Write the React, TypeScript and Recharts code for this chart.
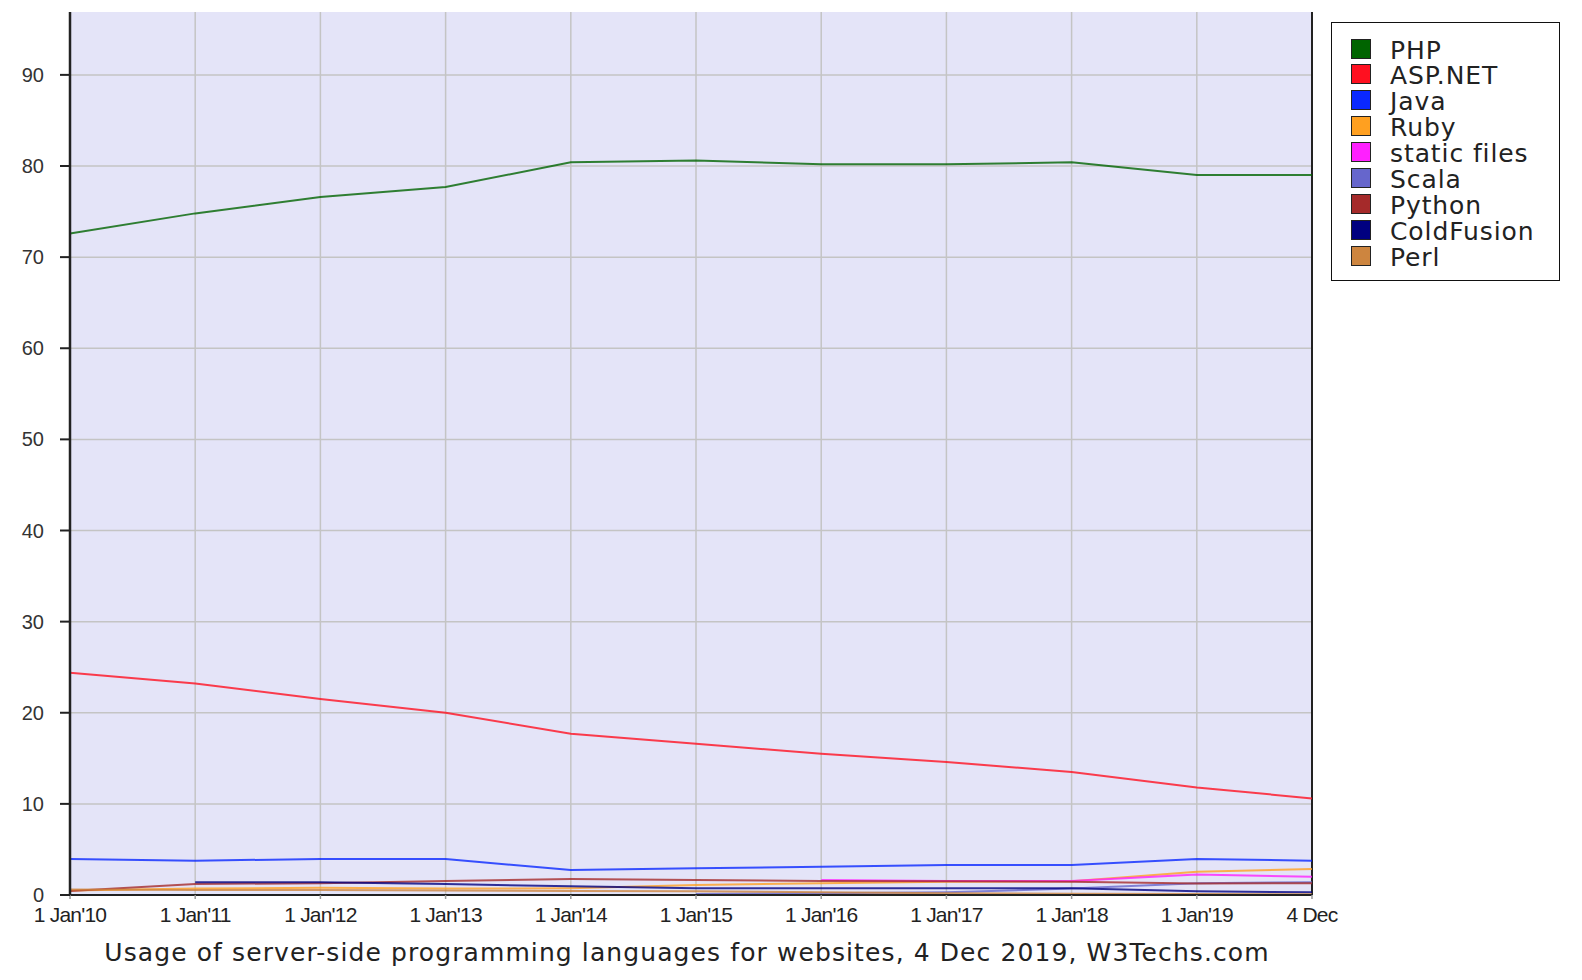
import React from 'react';
import { LineChart, Line, XAxis, YAxis, CartesianGrid, ReferenceLine } from 'recharts';

const years = [2010, 2011, 2012, 2013, 2014, 2015, 2016, 2017, 2018, 2019, 2019.92];
const xLabels = ["1 Jan'10", "1 Jan'11", "1 Jan'12", "1 Jan'13", "1 Jan'14", "1 Jan'15", "1 Jan'16", "1 Jan'17", "1 Jan'18", "1 Jan'19", '4 Dec'];
const yTicks = [0, 10, 20, 30, 40, 50, 60, 70, 80, 90];

const php = [72.6, 74.8, 76.6, 77.7, 80.4, 80.6, 80.2, 80.2, 80.4, 79.0, 79.0];
const aspnet = [24.4, 23.2, 21.5, 20.0, 17.7, 16.6, 15.5, 14.6, 13.5, 11.8, 10.6];
const java = [3.95, 3.77, 3.95, 3.95, 2.75, 2.93, 3.11, 3.3, 3.3, 3.96, 3.77];
const ruby = [0.5, 0.7, 0.8, 0.7, 0.75, 1.1, 1.3, 1.45, 1.5, 2.55, 2.85];
const staticFiles = [null, null, null, null, null, null, 1.65, 1.55, 1.55, 2.25, 2.0];
const scala = [null, null, null, null, null, 0.1, 0.2, 0.3, 0.7, 1.3, 1.4];
const python = [0.45, 1.2, 1.3, 1.55, 1.75, 1.65, 1.55, 1.5, 1.45, 1.25, 1.3];
const coldfusion = [null, 1.4, 1.4, 1.2, 0.95, 0.75, 0.73, 0.73, 0.73, 0.4, 0.3];
const perl = [0.6, 0.55, 0.55, 0.5, 0.45, 0.4, 0.3, 0.2, 0.15, 0.1, 0.08];

const seriesNames = ['PHP', 'ASP.NET', 'Java', 'Ruby', 'static files', 'Scala', 'Python', 'ColdFusion', 'Perl'];
const seriesKeys = ['php', 'aspnet', 'java', 'ruby', 'staticFiles', 'scala', 'python', 'coldfusion', 'perl'];
const seriesColors = ['#006400', '#ff1020', '#0a28ff', '#ffa020', '#ff20ff', '#6666cc', '#a52a2a', '#000080', '#cd853f'];
const seriesValues = [php, aspnet, java, ruby, staticFiles, scala, python, coldfusion, perl];

const title = 'Usage of server-side programming languages for websites, 4 Dec 2019, W3Techs.com';

const data = years.map((x, i) => {
  const row: Record<string, number | null> = { x };
  seriesKeys.forEach((k, j) => {
    row[k] = seriesValues[j][i];
  });
  return row;
});

const labelFor = (v: number) => {
  const i = years.indexOf(v);
  return i >= 0 ? xLabels[i] : '';
};

const textFont = '"DejaVu Sans", Verdana, sans-serif';

const LegendBox = () => (
  <div
    style={{
      position: 'absolute',
      left: 1331,
      top: 22,
      width: 227,
      height: 257,
      border: '1.5px solid #111',
      background: '#fff',
    }}
  >
    {seriesNames.map((n, i) => (
      <div
        key={n}
        style={{
          position: 'absolute',
          left: 19,
          top: 15 + i * 25.9,
          height: 21,
          display: 'flex',
          alignItems: 'center',
        }}
      >
        <div
          style={{
            width: 18,
            height: 18,
            background: seriesColors[i],
            border: '1.5px solid #222',
            flex: 'none',
          }}
        />
        <span
          style={{
            marginLeft: 19,
            marginTop: 3,
            fontFamily: textFont,
            fontSize: 25,
            letterSpacing: 0.9,
            color: '#222',
            lineHeight: '21px',
            whiteSpace: 'nowrap',
          }}
        >
          {n}
        </span>
      </div>
    ))}
  </div>
);

export default function App() {
  return (
    <div style={{ position: 'absolute', left: 0, top: 0, width: 1582, height: 980, background: '#fff' }}>
      <LineChart
        width={1582}
        height={980}
        data={data}
        margin={{ top: 12, right: 270, bottom: 55, left: 0 }}
      >
        <CartesianGrid
          fill="#e4e4f8"
          stroke="#c4c4c4"
          strokeWidth={1.5}
          verticalValues={years}
          horizontalValues={yTicks}
        />
        <XAxis
          dataKey="x"
          type="number"
          domain={[2010, 2019.92]}
          ticks={years}
          tickFormatter={labelFor}
          interval={0}
          height={30}
          tickSize={4}
          tickMargin={8}
          axisLine={{ stroke: '#222', strokeWidth: 2 }}
          tickLine={{ stroke: '#999', strokeWidth: 1.5 }}
          tick={{ fill: '#222', fontSize: 21, fontFamily: '"Liberation Sans Narrow", "Arial Narrow", sans-serif', letterSpacing: -0.8 }}
        />
        <YAxis
          type="number"
          domain={[0, 96.9]}
          ticks={yTicks}
          interval={0}
          width={70}
          tickSize={10}
          tickMargin={16}
          axisLine={{ stroke: '#222', strokeWidth: 2.5 }}
          tickLine={{ stroke: '#222', strokeWidth: 2 }}
          tick={{ fill: '#333', fontSize: 20, fontFamily: '"Liberation Sans", Arial, sans-serif' }}
        />
        <ReferenceLine x={2019.92} stroke="#222" strokeWidth={2} />
        {seriesKeys.map((k, i) => (
          <Line
            key={k}
            type="linear"
            dataKey={k}
            name={seriesNames[i]}
            stroke={seriesColors[i]}
            strokeOpacity={0.8}
            strokeWidth={2}
            dot={false}
            activeDot={false}
            connectNulls={false}
            isAnimationActive={false}
          />
        ))}
      </LineChart>
      <LegendBox />
      <div
        style={{
          position: 'absolute',
          left: 70,
          width: 1234,
          top: 938,
          textAlign: 'center',
          fontFamily: textFont,
          fontSize: 25,
          letterSpacing: 1.1,
          color: '#222',
          whiteSpace: 'nowrap',
        }}
      >
        {title}
      </div>
    </div>
  );
}
